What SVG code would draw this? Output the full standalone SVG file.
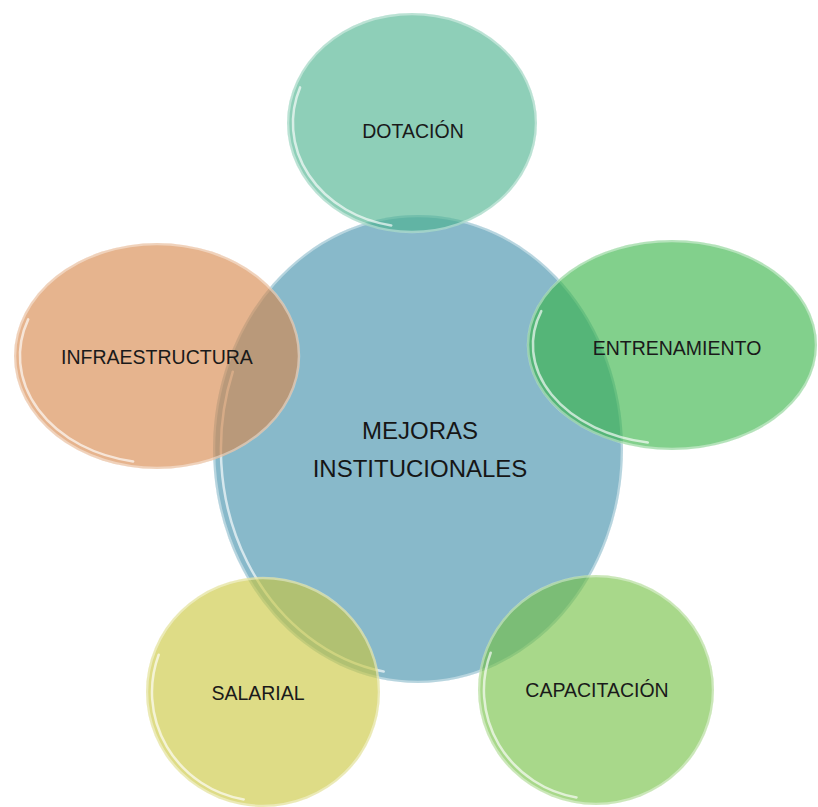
<svg xmlns="http://www.w3.org/2000/svg" width="818" height="807" viewBox="0 0 818 807">
  <style>
    .sat { fill-opacity: 0.62; }
    .rim { fill: none; stroke: #ffffff; stroke-opacity: 0.4; stroke-width: 2.5; }
    .gloss { fill: none; stroke: #ffffff; stroke-opacity: 0.65; stroke-width: 2.5; stroke-linecap: round; }
    .lbl { font-family: "Liberation Sans", Arial, sans-serif; font-size: 19.5px; fill: #1a1a1a; text-anchor: middle; dominant-baseline: central; }
    .hub { font-family: "Liberation Sans", Arial, sans-serif; font-size: 24px; fill: #161616; text-anchor: middle; dominant-baseline: central; }
  </style>
  <rect width="818" height="807" fill="#ffffff"/>

  <!-- central hub -->
  <g id="mejoras">
    <ellipse cx="418" cy="449" rx="205" ry="234" fill="#88B9CA"/>
    <ellipse class="rim" cx="418" cy="449" rx="204" ry="233"/>
    <path class="gloss" d="M232.8,371.7 A197,226 0 0 0 383.7,671.6"/>
    <text class="hub" x="420" y="430">MEJORAS</text>
    <text class="hub" x="420" y="468">INSTITUCIONALES</text>
  </g>

  <!-- satellites -->
  <g id="dotacion">
    <ellipse class="sat" cx="412" cy="123" rx="125" ry="110" fill="#49B28D"/>
    <ellipse class="rim" cx="412" cy="123" rx="124" ry="109"/>
    <path class="gloss" d="M300.1,87.4 A119,104 0 0 0 391.3,225.4"/>
    <text class="lbl" x="413" y="131">DOTACIÓN</text>
  </g>

  <g id="infraestructura">
    <ellipse class="sat" cx="157" cy="356" rx="143" ry="113" fill="#D78649"/>
    <ellipse class="rim" cx="157" cy="356" rx="142" ry="112"/>
    <path class="gloss" d="M28.2,319.4 A137,107 0 0 0 133.2,461.4"/>
    <text class="lbl" x="157" y="357">INFRAESTRUCTURA</text>
  </g>

  <g id="entrenamiento">
    <ellipse class="sat" cx="672" cy="345" rx="145" ry="105" fill="#35B346"/>
    <ellipse class="rim" cx="672" cy="345" rx="144" ry="104"/>
    <path class="gloss" d="M541.3,311.1 A139,99 0 0 0 647.8,442.5"/>
    <text class="lbl" x="677" y="348">ENTRENAMIENTO</text>
  </g>

  <g id="salarial">
    <ellipse class="sat" cx="263" cy="692" rx="117" ry="115" fill="#CAC73C"/>
    <ellipse class="rim" cx="263" cy="692" rx="116" ry="114"/>
    <path class="gloss" d="M158.7,654.7 A111,109 0 0 0 243.7,799.4"/>
    <text class="lbl" x="258" y="693">SALARIAL</text>
  </g>

  <g id="capacitacion">
    <ellipse class="sat" cx="596" cy="690" rx="118" ry="115" fill="#73C042"/>
    <ellipse class="rim" cx="596" cy="690" rx="117" ry="114"/>
    <path class="gloss" d="M490.7,652.7 A112,109 0 0 0 576.5,797.4"/>
    <text class="lbl" x="597" y="690">CAPACITACIÓN</text>
  </g>
</svg>
